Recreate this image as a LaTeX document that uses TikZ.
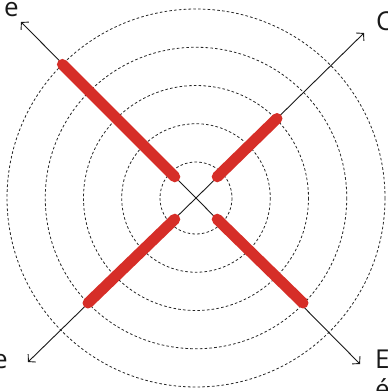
\documentclass[tikz,border=0pt]{standalone}
\usepackage{fontspec}
\setmainfont{Open Sans}
\usetikzlibrary{arrows.meta,calc}
\definecolor{barred}{RGB}{214,46,40}
\begin{document}
\begin{tikzpicture}[x=1pt,y=-1pt,
  ring/.style={draw=black!85, line width=0.8pt, dash pattern=on 2.6pt off 2.2pt},
  axis/.style={draw=black!90, line width=0.9pt, -{Straight Barb[length=5pt,width=11pt,line width=0.9pt]}},
  bar/.style={draw=barred, line width=11pt, line cap=round},
  lab/.style={font=\fontsize{26}{30}\selectfont, inner sep=0pt, text=black!90}]
\clip (0,0) rectangle (388,391);
\useasboundingbox (0,0) rectangle (388,391);
\coordinate (O) at (196,198);
\foreach \r in {36,74.25,112.5,150.75,189} {
  \draw[ring] (O) circle[radius=\r];
}
% axis tips
\coordinate (TL) at ($(O)+(-175,-176)$);
\coordinate (TR) at ($(O)+(168,-165)$);
\coordinate (BL) at ($(O)+(-168,164)$);
\coordinate (BR) at ($(O)+(164,166)$);
\draw[axis] (O) -- (TL);
\draw[axis] (O) -- (TR);
\draw[axis] (O) -- (BL);
\draw[axis] (O) -- (BR);
% bars
\coordinate (a1) at ($(O)+(-21.2,-21.2)$);
\coordinate (a2) at ($(O)+(-133.6,-133.6)$);
\coordinate (b1) at ($(O)+(21.2,-21.2)$);
\coordinate (b2) at ($(O)+(81,-79.5)$);
\coordinate (c1) at ($(O)+(-21.2,21.2)$);
\coordinate (c2) at ($(O)+(-108,105)$);
\coordinate (d1) at ($(O)+(21.2,21.2)$);
\coordinate (d2) at ($(O)+(107,105)$);
\draw[bar] (a1) -- (a2);
\draw[bar] (b1) -- (b2);
\draw[bar] (c1) -- (c2);
\draw[bar] (d1) -- (d2);
% labels (cropped at the picture's edges, as in the reference)
\node[lab, anchor=base east] (ltl) at (19,16.5) {e};
\node[lab, anchor=base west] (ltr) at (376,30) {C};
\node[lab, anchor=base east] (lbl) at (8,368) {e};
\node[lab, anchor=base west, align=left] (lbr) at (375,398) {E\\é};
\end{tikzpicture}
\end{document}
